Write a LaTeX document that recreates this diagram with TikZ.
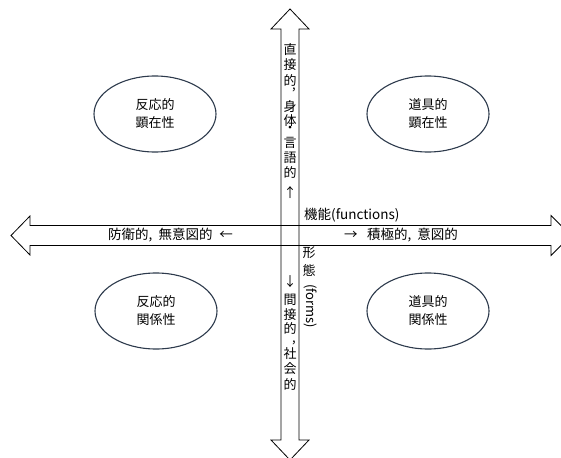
\documentclass[tikz,border=0pt]{standalone}
\usepackage{fontspec}
\setmainfont{Noto Sans CJK JP}
\usetikzlibrary{shapes.geometric}
\definecolor{ovalc}{RGB}{45,58,76}
\begin{document}
\begin{tikzpicture}[x=1pt,y=-1pt,
  lbl/.style={inner sep=0pt, font=\fontsize{13}{15}\selectfont},
  hlbl/.style={inner sep=0pt, font=\fontsize{13.5}{15}\selectfont},
  oval/.style={draw=ovalc, line width=1.1pt, ellipse, minimum width=122pt, minimum height=76pt, inner sep=0pt, align=center, font=\fontsize{13}{18}\selectfont},
  axis/.style={draw=black, line width=0.8pt, line join=miter}]
\useasboundingbox (0,0) rectangle (561,457);
% axes
\draw[axis] (11,235.5) -- (30,216) -- (30,225.5) -- (551,225.5) -- (551,215.5) -- (571,235.5) -- (551,255.5) -- (551,245.5) -- (30,245.5) -- (30,255) -- cycle;
\draw[axis] (290,9) -- (309,29) -- (299,29) -- (299,440) -- (309,440) -- (290,460) -- (271,440) -- (281,440) -- (281,29) -- (271,29) -- cycle;
% ellipses
\node[oval] (tl) at (155,114) {反応的\\顕在性};
\node[oval] (tr) at (428,114) {道具的\\顕在性};
\node[oval] (bl) at (156,311) {反応的\\関係性};
\node[oval] (br) at (428,311) {道具的\\関係性};
% vertical text top
\foreach \c/\y [count=\i] in {直/50, 接/65, 的/80, 身/107, 体/121, 言/143, 語/158, 的/172, ↑/193}
  \node[lbl] (vt\i) at (290,\y) {\c};
\node[lbl] (vtc) at (294,90) {\smash{,}};
\node[lbl] (vtd) at (290,132) {\smash{・}};
% vertical text bottom
\foreach \c/\y [count=\i] in {↓/282, 間/300, 接/315, 的/328, 社/354, 会/369, 的/384}
  \node[lbl] (vb\i) at (290,\y) {\c};
\node[lbl] (vbc) at (294,342) {\smash{,}};
% form label
\node[lbl] (fk1) at (309,253) {形};
\node[lbl] (fk2) at (309,270) {態};
\node[lbl, rotate=-90] (fk3) at (311,306) {(forms)};
% function label
\node[hlbl, anchor=west] (fn) at (304,215) {機能(functions)};
% horizontal texts
\node[hlbl, anchor=east] (lt) at (233,235.5) {防衛的,\hspace{0.45em}無意図的\hspace{0.5em}←};
\node[hlbl, anchor=west] (rt) at (344,235.5) {→\hspace{0.7em}積極的,\hspace{0.45em}意図的};
\end{tikzpicture}
\end{document}
